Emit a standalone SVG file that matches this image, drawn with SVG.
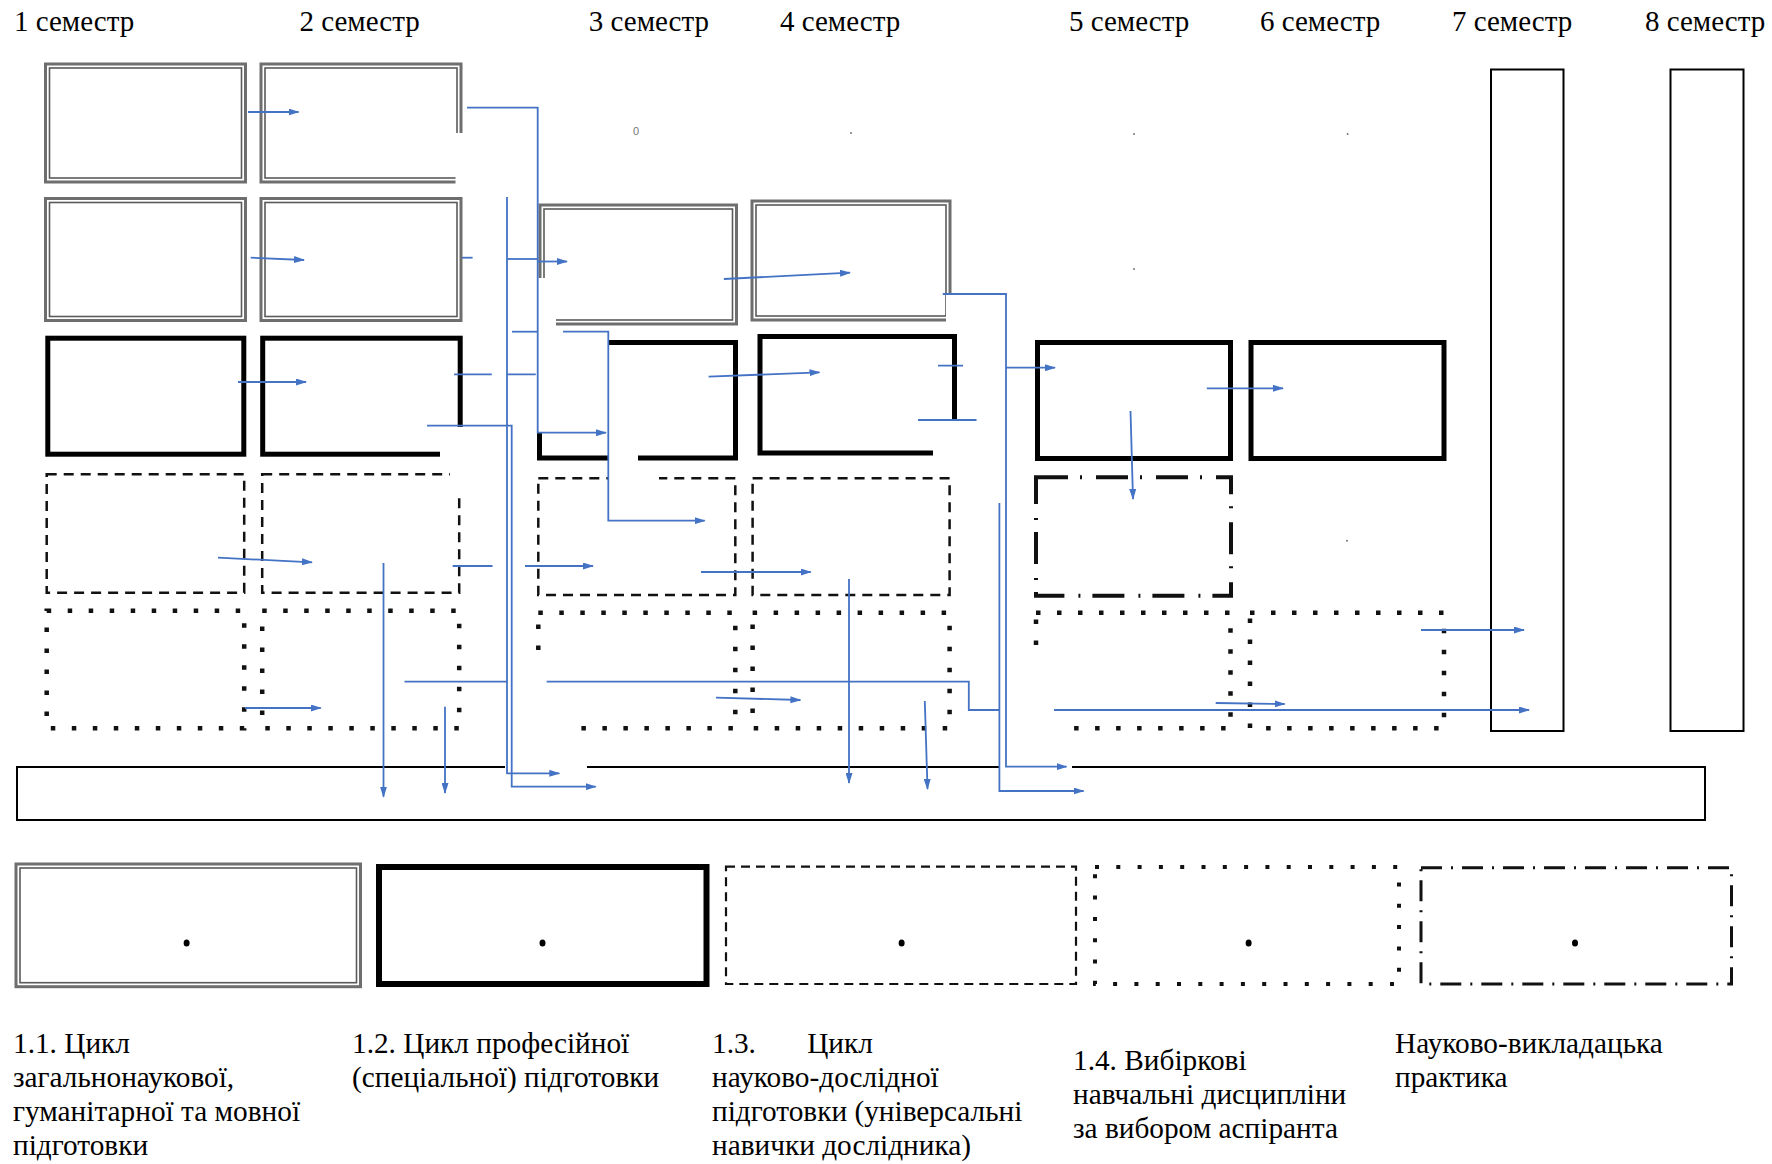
<svg xmlns="http://www.w3.org/2000/svg" width="1772" height="1164" viewBox="0 0 1772 1164">
<defs>
<style>
.bg{fill:#fff}
.dbo{fill:none;stroke:#6e6e6e;stroke-width:3}
.dbi{fill:none;stroke:#5a5a5a;stroke-width:1.6}
.thk{fill:none;stroke:#000;stroke-width:5}
.dsh{fill:none;stroke:#111;stroke-width:2.5;stroke-dasharray:10 7}
.dot{fill:none;stroke:#111;stroke-width:4.5;stroke-dasharray:4.5 16.5}
.dd{fill:none;stroke:#111;stroke-width:4;stroke-dasharray:32 12 2 14}
.thin{fill:none;stroke:#000;stroke-width:2}
.wo{fill:#fff;stroke:none}
.c{fill:none;stroke:#4472C4;stroke-width:1.8}
.a{marker-end:url(#ah)}
.hdr{font-family:"Liberation Serif","Times New Roman",serif;font-size:29px;fill:#000}
.leg{font-family:"Liberation Serif","Times New Roman",serif;font-size:29.3px;fill:#000}
.tiny{fill:#777}
</style>
<marker id="ah" viewBox="0 0 11 7" refX="10" refY="3.5" markerWidth="11" markerHeight="7" markerUnits="userSpaceOnUse" orient="auto">
<path d="M0,0 L11,3.5 L0,7 z" fill="#4472C4"/>
</marker>
</defs>
<rect class="bg" x="0" y="0" width="1772" height="1164"/>

<g id="headers">
<text class="hdr" x="14" y="31">1 семестр</text>
<text class="hdr" x="299.5" y="31">2 семестр</text>
<text class="hdr" x="588.8" y="31">3 семестр</text>
<text class="hdr" x="780" y="31">4 семестр</text>
<text class="hdr" x="1069" y="31">5 семестр</text>
<text class="hdr" x="1260" y="31">6 семестр</text>
<text class="hdr" x="1452" y="31">7 семестр</text>
<text class="hdr" x="1645" y="31">8 семестр</text>
</g>

<g id="A1"><rect class="dbo" x="45.5" y="64" width="200" height="118"/><rect class="dbi" x="49.5" y="68" width="192" height="110"/></g>
<g id="A2"><rect class="dbo" x="261" y="64" width="200" height="118"/><rect class="dbi" x="265" y="68" width="192" height="110"/></g>
<g id="B1"><rect class="dbo" x="45.5" y="198.5" width="200" height="122"/><rect class="dbi" x="49.5" y="202.5" width="192" height="114"/></g>
<g id="B2"><rect class="dbo" x="261" y="198.5" width="200" height="122"/><rect class="dbi" x="265" y="202.5" width="192" height="114"/></g>
<g id="B3"><rect class="dbo" x="540" y="205" width="196.5" height="119"/><rect class="dbi" x="544" y="209" width="188.5" height="111"/></g>
<g id="B4"><rect class="dbo" x="752" y="201" width="198" height="119"/><rect class="dbi" x="756" y="205" width="190" height="111"/></g>

<g id="C1"><rect class="thk" x="47.8" y="338.2" width="196" height="116"/></g>
<g id="C2"><rect class="thk" x="262.7" y="338.2" width="197.5" height="116"/></g>
<g id="C3"><rect class="thk" x="539.5" y="342.5" width="196" height="115.5"/></g>
<g id="C4"><rect class="thk" x="760" y="336.5" width="194.5" height="116.5"/></g>
<g id="C5"><rect class="thk" x="1037.5" y="342.5" width="193" height="116"/></g>
<g id="C6"><rect class="thk" x="1251" y="342.5" width="193" height="116"/></g>

<g id="D1"><rect class="dsh" x="46.7" y="474.3" width="197.5" height="118.4"/></g>
<g id="D2"><rect class="dsh" x="262.2" y="474.3" width="197" height="118.4"/></g>
<g id="D3"><rect class="dsh" x="538.3" y="478.3" width="197" height="116.7"/></g>
<g id="D4"><rect class="dsh" x="752.6" y="478.3" width="197" height="116.7"/></g>
<g id="D5"><rect class="dd" x="1036" y="477.3" width="195" height="118.4"/></g>

<g id="E1"><rect class="dot" x="46.7" y="610.7" width="197.5" height="117.6"/></g>
<g id="E2"><rect class="dot" x="262.2" y="610.7" width="197" height="117.6"/></g>
<g id="E3"><rect class="dot" x="538.3" y="612.7" width="197" height="115.6"/></g>
<g id="E4"><rect class="dot" x="752.6" y="612.7" width="197" height="115.6"/></g>
<g id="E5"><rect class="dot" x="1036" y="612.7" width="194.5" height="115.6"/></g>
<g id="E6"><rect class="dot" x="1250" y="612.7" width="194" height="115.6"/></g>

<g id="T7"><rect class="thin" x="1491" y="69.5" width="72.5" height="661.5"/></g>
<g id="T8"><rect class="thin" x="1670.5" y="69.5" width="73" height="661.5"/></g>
<g id="bar"><rect class="thin" x="17" y="767" width="1688" height="53"/></g>

<g id="whiteouts">
<rect class="wo" x="455.5" y="133" width="12" height="53"/>
<rect class="wo" x="535" y="278" width="21" height="50"/>
<rect class="wo" x="946" y="295" width="10" height="30"/>
<rect class="wo" x="440" y="427" width="26" height="35"/>
<rect class="wo" x="534" y="337" width="74" height="10"/>
<rect class="wo" x="534" y="337" width="11" height="95"/>
<rect class="wo" x="608" y="453" width="30" height="10"/>
<rect class="wo" x="933" y="421" width="27" height="38"/>
<rect class="wo" x="450" y="471" width="12" height="21"/>
<rect class="wo" x="608" y="475" width="51" height="7"/>
<rect class="wo" x="533" y="660" width="39" height="73"/>
<rect class="wo" x="1031" y="656" width="35" height="77"/>
<rect class="wo" x="505" y="763" width="82" height="8"/>
<rect class="wo" x="999" y="763" width="73" height="8"/>
</g>

<g id="specks">
<text x="633" y="135" font-family="Liberation Sans, sans-serif" font-size="11" class="tiny">0</text>
<circle class="tiny" cx="851" cy="133" r="1"/>
<circle class="tiny" cx="1134" cy="134" r="1"/>
<circle class="tiny" cx="1347.6" cy="134" r="1"/>
<circle class="tiny" cx="1134" cy="269" r="1"/>
<circle class="tiny" cx="1347" cy="540.7" r="1"/>
</g>

<g id="connectors">
<path class="c a" d="M248,112 H298.5"/>
<path class="c a" d="M467,107.7 H537.7 V432.7 H606"/>
<path class="c" d="M507,259 H537.7"/>
<path class="c a" d="M537.7,261.5 H567"/>
<path class="c" d="M512,331.7 H537.7"/>
<path class="c a" d="M563,331.7 H608.3 V520.7 H704.7"/>
<path class="c a" d="M250.7,257.7 L304,260"/>
<path class="c" d="M462,257.7 H472.6"/>
<path class="c a" d="M507,197 V773.3 H559.3"/>
<path class="c a" d="M427,425.7 H511.7 V786.7 H595.7"/>
<path class="c" d="M454,374.3 H491.8 M507,374.3 H535.8"/>
<path class="c a" d="M238,382 H306"/>
<path class="c a" d="M218,557.7 L312,562.3"/>
<path class="c" d="M452.7,566 H492.5"/>
<path class="c a" d="M525,566 H593"/>
<path class="c a" d="M383.5,563 V796.7"/>
<path class="c a" d="M445,706.7 V793"/>
<path class="c a" d="M245,708 H320.7"/>
<path class="c" d="M404.5,681.7 H507 M546.7,681.7 H968.8 V710 H999.4"/>
<path class="c a" d="M999.4,503 V791 H1083.6"/>
<path class="c a" d="M1054,710 H1529"/>
<path class="c a" d="M708.6,376.7 L819.5,372.3"/>
<path class="c" d="M938,365.7 H963 M918,420 H976.5"/>
<path class="c a" d="M723.9,279 L850,272.7"/>
<path class="c a" d="M942.8,294 H1006 V766.7 H1066.5"/>
<path class="c a" d="M1006,367.7 H1055"/>
<path class="c a" d="M701,572 H810.7"/>
<path class="c a" d="M849,579 V783"/>
<path class="c a" d="M924.8,701 L927.5,789"/>
<path class="c a" d="M716,697.7 L800.4,700"/>
<path class="c a" d="M1206.8,388.3 H1283"/>
<path class="c a" d="M1130.5,411 L1133,499"/>
<path class="c a" d="M1421,630 H1524"/>
<path class="c a" d="M1215.7,703 L1284.6,704"/>
</g>

<g id="legend1"><rect class="dbo" x="16" y="864" width="344.5" height="122.7"/><rect class="dbi" x="20" y="868" width="336.5" height="114.7"/><ellipse cx="186.6" cy="943" rx="3" ry="3.6"/></g>
<g id="legend2"><rect class="thk" x="379" y="867" width="327.5" height="117" style="stroke-width:6"/><ellipse cx="542.5" cy="943" rx="3" ry="3.6"/></g>
<g id="legend3"><rect class="dsh" x="726" y="866.7" width="350" height="117.3" style="stroke-width:2.2;stroke-dasharray:9 6"/><ellipse cx="901.6" cy="943" rx="3" ry="3.6"/></g>
<g id="legend4"><rect class="dot" x="1095" y="867" width="304" height="117" style="stroke-width:4;stroke-dasharray:4 17.3"/><ellipse cx="1248.6" cy="943" rx="3" ry="3.6"/></g>
<g id="legend5"><rect class="dd" x="1421" y="867.7" width="310.5" height="116.3" style="stroke-width:3;stroke-dasharray:21 9 2 9"/><ellipse cx="1575" cy="943" rx="3" ry="3.6"/></g>

<g id="legend-text">
<text class="leg" x="13" y="1053">1.1. Цикл</text>
<text class="leg" x="13" y="1087">загальнонаукової,</text>
<text class="leg" x="13" y="1121">гуманітарної та мовної</text>
<text class="leg" x="13" y="1155">підготовки</text>
<text class="leg" x="352" y="1053">1.2. Цикл професійної</text>
<text class="leg" x="352" y="1087">(спеціальної) підготовки</text>
<text class="leg" x="712" y="1053" xml:space="preserve">1.3.       Цикл</text>
<text class="leg" x="712" y="1087">науково-дослідної</text>
<text class="leg" x="712" y="1121">підготовки (універсальні</text>
<text class="leg" x="712" y="1155">навички дослідника)</text>
<text class="leg" x="1073" y="1070">1.4. Вибіркові</text>
<text class="leg" x="1073" y="1104">навчальні дисципліни</text>
<text class="leg" x="1073" y="1138">за вибором аспіранта</text>
<text class="leg" x="1395" y="1053">Науково-викладацька</text>
<text class="leg" x="1395" y="1087">практика</text>
</g>
</svg>
